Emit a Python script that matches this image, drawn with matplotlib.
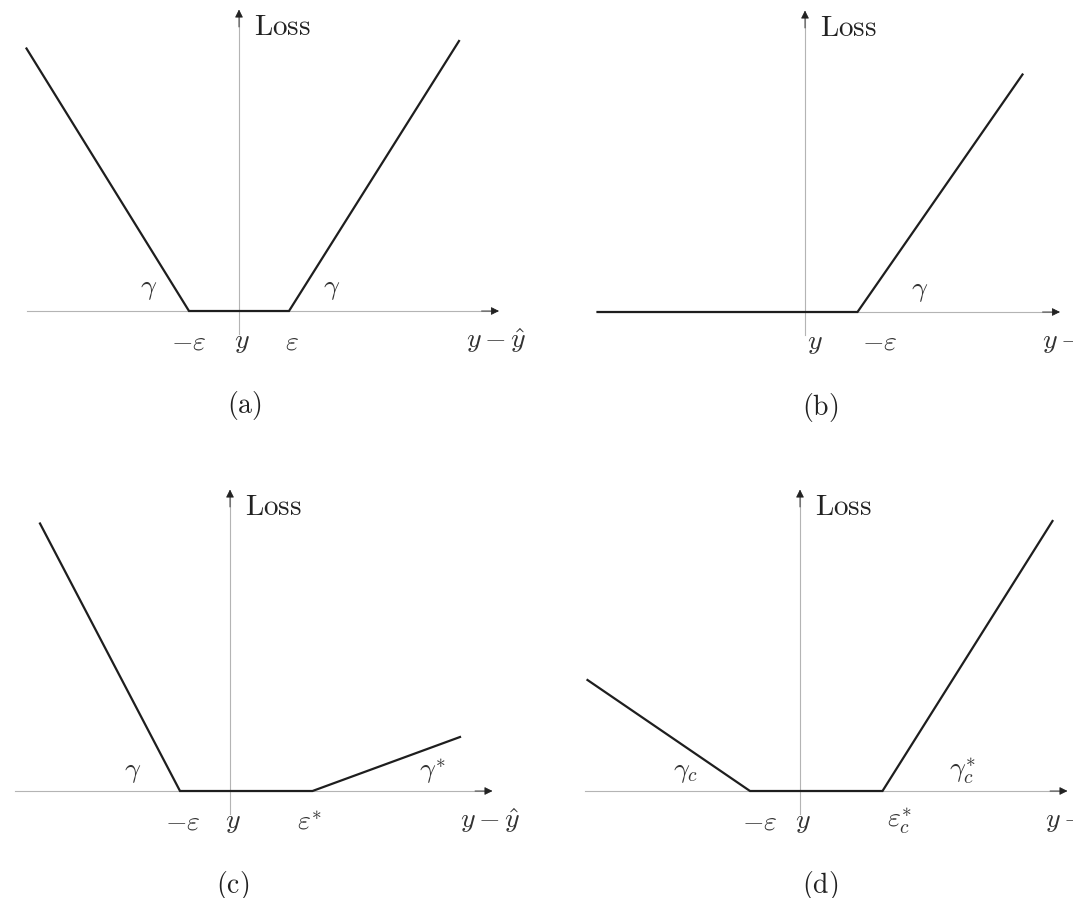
"""Four piecewise-linear loss functions: epsilon-insensitive and its variants."""
import matplotlib
matplotlib.use("Agg")
import matplotlib.pyplot as plt

plt.rcParams["mathtext.fontset"] = "cm"

W, H = 1073, 898
UNIT = 50.0  # pixels per data unit

# knots of each loss curve (x = y - y_hat, value = loss)
a_x = [-4.25, -1.0, 1.0, 4.4]
a_y = [5.25, 0.0, 0.0, 5.4]
b_x = [-4.15, 1.05, 4.35]
b_y = [0.0, 0.0, 4.75]
c_x = [-3.8, -1.0, 1.65, 4.6]
c_y = [5.35, 0.0, 0.0, 1.08]
d_x = [-4.25, -1.0, 1.65, 5.05]
d_y = [2.22, 0.0, 0.0, 5.4]

# tick labels under the horizontal axis: (x, text)
a_ticks = [(-1.0, r"$-\varepsilon$"), (0.05, r"$y$"), (1.05, r"$\varepsilon$")]
b_ticks = [(0.2, r"$y$"), (1.5, r"$-\varepsilon$")]
c_ticks = [(-0.95, r"$-\varepsilon$"), (0.05, r"$y$"), (1.6, r"$\varepsilon^{*}$")]
d_ticks = [(-0.8, r"$-\varepsilon$"), (0.05, r"$y$"), (2.0, r"$\varepsilon_c^{*}$")]

# slope labels: (x, y, text)
a_slopes = [(-1.8, 0.45, r"$\gamma$"), (1.85, 0.45, r"$\gamma$")]
b_slopes = [(2.3, 0.45, r"$\gamma$")]
c_slopes = [(-1.95, 0.4, r"$\gamma$"), (4.05, 0.4, r"$\gamma^{*}$")]
d_slopes = [(-2.3, 0.4, r"$\gamma_c$"), (3.25, 0.4, r"$\gamma_c^{*}$")]

AXIS_C = "#b4b4b4"
LINE_C = "#1e1e1e"
FS = 20


def panel(fig, box, origin, xs, ys, ticks, slopes, caption, xaxis, vtop, xlab_x, cap_x):
    x0, y0, x1, y1 = box
    ox, oy = origin
    ax = fig.add_axes([x0 / W, 1 - y1 / H, (x1 - x0) / W, (y1 - y0) / H])
    ax.set_xlim((x0 - ox) / UNIT, (x1 - ox) / UNIT)
    ax.set_ylim((oy - y1) / UNIT, (oy - y0) / UNIT)
    ax.axis("off")

    # coordinate axes with small arrow heads
    ax.plot(xaxis, [0, 0], color=AXIS_C, lw=0.8, zorder=1)
    ax.plot([0, 0], [-0.45, vtop], color=AXIS_C, lw=0.8, zorder=1)
    ax.annotate("", xy=(xaxis[1] + 0.05, 0), xytext=(xaxis[1] - 0.3, 0),
                arrowprops=dict(arrowstyle="-|>", color="#222222", lw=0.6,
                                mutation_scale=12, shrinkA=0, shrinkB=0))
    ax.annotate("", xy=(0, vtop + 0.05), xytext=(0, vtop - 0.3),
                arrowprops=dict(arrowstyle="-|>", color="#222222", lw=0.6,
                                mutation_scale=12, shrinkA=0, shrinkB=0))
    ax.text(0.3, vtop - 0.3, r"$\mathrm{Loss}$", fontsize=FS + 1, ha="left",
            va="center", color="#222222", clip_on=False)

    ax.plot(xs, ys, color=LINE_C, lw=1.6, solid_joinstyle="miter", zorder=3)

    for x, t in ticks:
        ax.text(x, -0.6, t, fontsize=FS, ha="center", va="center",
                color="#333333", clip_on=False)
    ax.text(xlab_x, -0.6, r"$y-\hat{y}$", fontsize=FS, ha="left", va="center",
            color="#333333", clip_on=False)
    for x, y, t in slopes:
        ax.text(x, y, t, fontsize=FS, ha="center", va="center",
                color="#333333", clip_on=False)
    ax.text(cap_x, -1.9, caption, fontsize=FS, ha="center", va="center",
            color="#222222", clip_on=False)


fig = plt.figure(figsize=(W / 100, H / 100), dpi=100)
panel(fig, (0, 0, 536, 449), (239, 311), a_x, a_y, a_ticks, a_slopes,
      r"$\mathrm{(a)}$", [-4.25, 5.15], 5.98, 4.55, 0.1)
panel(fig, (536, 0, 1073, 449), (805, 312), b_x, b_y, b_ticks, b_slopes,
      r"$\mathrm{(b)}$", [-4.15, 5.05], 5.98, 4.75, 0.3)
panel(fig, (0, 449, 536, 898), (230, 791), c_x, c_y, c_ticks, c_slopes,
      r"$\mathrm{(c)}$", [-4.3, 5.2], 5.98, 4.6, 0.05)
panel(fig, (536, 449, 1073, 898), (800, 791), d_x, d_y, d_ticks, d_slopes,
      r"$\mathrm{(d)}$", [-4.3, 5.3], 5.98, 4.9, 0.4)

fig.savefig("out.png", dpi=100, facecolor="white")
